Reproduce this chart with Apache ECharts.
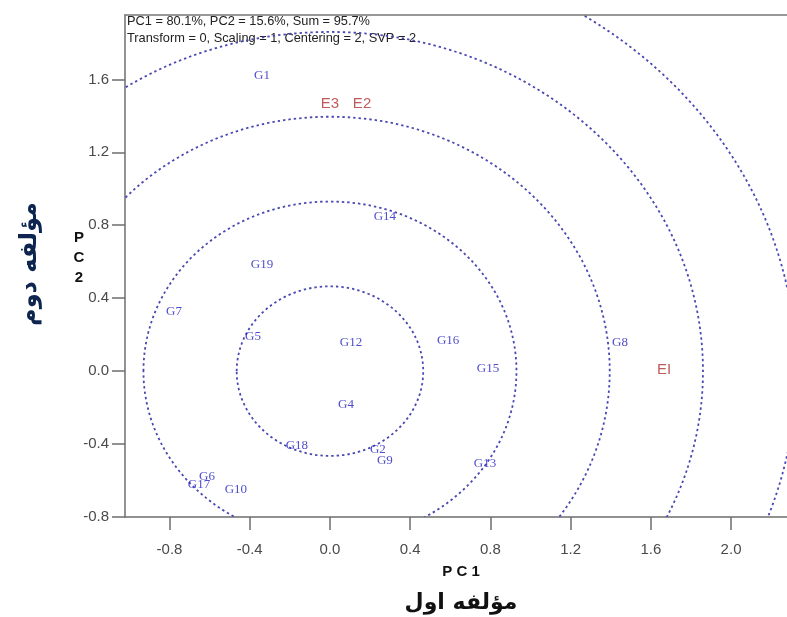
<!DOCTYPE html>
<html>
<head>
<meta charset="utf-8">
<script src="https://cdn.jsdelivr.net/npm/echarts@6/dist/echarts.min.js"></script>
<style>
html,body{margin:0;padding:0;background:#fff;}
#main{width:787px;height:617px;}
</style>
</head>
<body>
<div id="main"></div>
<script>
// Genotype scores (PC1, PC2)
var genoNames = ['G1','G14','G19','G7','G5','G12','G16','G8','G15','G4','G18','G2','G9','G13','G6','G17','G10'];
var genoPC1   = [-0.339, 0.274, -0.339, -0.778, -0.384, 0.105, 0.589, 1.446, 0.788, 0.080, -0.165, 0.239, 0.274, 0.773, -0.613, -0.653, -0.469];
var genoPC2   = [ 1.619, 0.845,  0.582,  0.329,  0.192, 0.159, 0.170, 0.159, 0.016, -0.181, -0.406, -0.428, -0.488, -0.505, -0.576, -0.620, -0.647];
// Environment scores
var envNames = ['E3','E2','EI'];
var envPC1   = [0.000, 0.160, 1.666];
var envPC2   = [1.465, 1.465, 0.005];
// Concentric circle radii (centred on origin)
var circleRadii = [0.465, 0.93, 1.395, 1.86, 2.325];
// Tick labels
var xTicks = [-0.8, -0.4, 0.0, 0.4, 0.8, 1.2, 1.6, 2.0];
var yTicks = [-0.8, -0.4, 0.0, 0.4, 0.8, 1.2, 1.6];

var chart = echarts.init(document.getElementById('main'));

var genoData = genoNames.map(function(n,i){ return {name:n, value:[genoPC1[i], genoPC2[i]]}; });
var envData = envNames.map(function(n,i){ return {name:n, value:[envPC1[i], envPC2[i]]}; });
var circData = circleRadii.map(function(r){ return [0, 0, r]; });

var axisLineStyle = {show:true, onZero:false, lineStyle:{color:'#6e6e6e', width:1.5}};

chart.setOption({
  animation: false,
  backgroundColor: '#fff',
  grid: {left:125, top:15, right:0, bottom:100, containLabel:false},
  xAxis: [{
    type:'value', min:-1.022, max:2.279, position:'bottom',
    axisLine: axisLineStyle, splitLine:{show:false},
    axisTick: {show:true, inside:false, length:13, lineStyle:{color:'#6e6e6e', width:1.5}, customValues: xTicks},
    axisLabel: {show:true, margin:25, color:'#4a4a4a', fontSize:15, fontFamily:'Liberation Sans, Arial, sans-serif',
      customValues: xTicks, formatter:function(v){return v.toFixed(1);}}
  },{
    type:'value', min:-1.022, max:2.279, position:'top',
    axisLine: {show:true, onZero:false, lineStyle:{color:'#777', width:1.5}},
    axisTick:{show:false}, axisLabel:{show:false}, splitLine:{show:false}
  }],
  yAxis: {
    type:'value', min:-0.8, max:1.953,
    axisLine: axisLineStyle, splitLine:{show:false},
    axisTick: {show:true, inside:false, length:13, lineStyle:{color:'#6e6e6e', width:1.5}, customValues: yTicks},
    axisLabel: {show:true, margin:16, color:'#4a4a4a', fontSize:15, fontFamily:'Liberation Sans, Arial, sans-serif',
      customValues: yTicks, formatter:function(v){return v.toFixed(1);}}
  },
  series: [{
    type:'custom',
    xAxisIndex:0, yAxisIndex:0,
    encode:{x:0, y:1},
    data: circData,
    silent:true,
    renderItem: function(params, api){
      var c = api.coord([api.value(0), api.value(1)]);
      var s = api.size([api.value(2), api.value(2)]);
      var cs = params.coordSys;
      return {
        type:'group',
        clipPath:{type:'rect', shape:{x:cs.x, y:cs.y, width:cs.width, height:cs.height}},
        children:[{
          type:'ellipse',
          shape:{cx:c[0], cy:c[1], rx:s[0], ry:s[1]},
          style:{fill:null, stroke:'#4848b2', lineWidth:1.8, lineDash:[2.4,3]}
        }]
      };
    }
  },{
    type:'scatter', name:'genotypes',
    data: genoData, symbolSize:1, itemStyle:{color:'rgba(0,0,0,0)'},
    label:{show:true, position:'inside', formatter:'{b}', color:'#2020c0', fontSize:13,
      fontFamily:'Liberation Serif, Times New Roman, serif'}
  },{
    type:'scatter', name:'environments',
    data: envData, symbolSize:1, itemStyle:{color:'rgba(0,0,0,0)'},
    label:{show:true, position:'inside', formatter:'{b}', color:'#b03232', fontSize:15,
      fontFamily:'Liberation Sans, Arial, sans-serif'}
  }],
  graphic: [
    {type:'text', left:127, top:15, style:{text:'PC1 = 80.1%, PC2 = 15.6%, Sum = 95.7%', fill:'#222', font:'12.8px "Liberation Sans", Arial, sans-serif'}},
    {type:'text', left:127, top:32, style:{text:'Transform = 0, Scaling = 1, Centering = 2, SVP = 2', fill:'#222', font:'12.8px "Liberation Sans", Arial, sans-serif'}},
    {type:'text', x:461, y:572, style:{text:'P C 1', fill:'#111', font:'bold 15px "Liberation Sans", Arial, sans-serif', align:'center', verticalAlign:'middle'}},
    {type:'text', x:461, y:603, style:{text:'مؤلفه اول', fill:'#111', font:'bold 22px "DejaVu Sans", sans-serif', align:'center', verticalAlign:'middle'}},
    {type:'text', x:79, y:238, style:{text:'P', fill:'#111', font:'bold 15px "Liberation Sans", Arial, sans-serif', align:'center', verticalAlign:'middle'}},
    {type:'text', x:79, y:258, style:{text:'C', fill:'#111', font:'bold 15px "Liberation Sans", Arial, sans-serif', align:'center', verticalAlign:'middle'}},
    {type:'text', x:79, y:278, style:{text:'2', fill:'#111', font:'bold 15px "Liberation Sans", Arial, sans-serif', align:'center', verticalAlign:'middle'}},
    {type:'text', x:30, y:264, rotation:Math.PI/2, style:{text:'مؤلفه دوم', fill:'#0e2550', font:'bold 24px "DejaVu Sans", sans-serif', align:'center', verticalAlign:'middle'}}
  ]
});
</script>
</body>
</html>
